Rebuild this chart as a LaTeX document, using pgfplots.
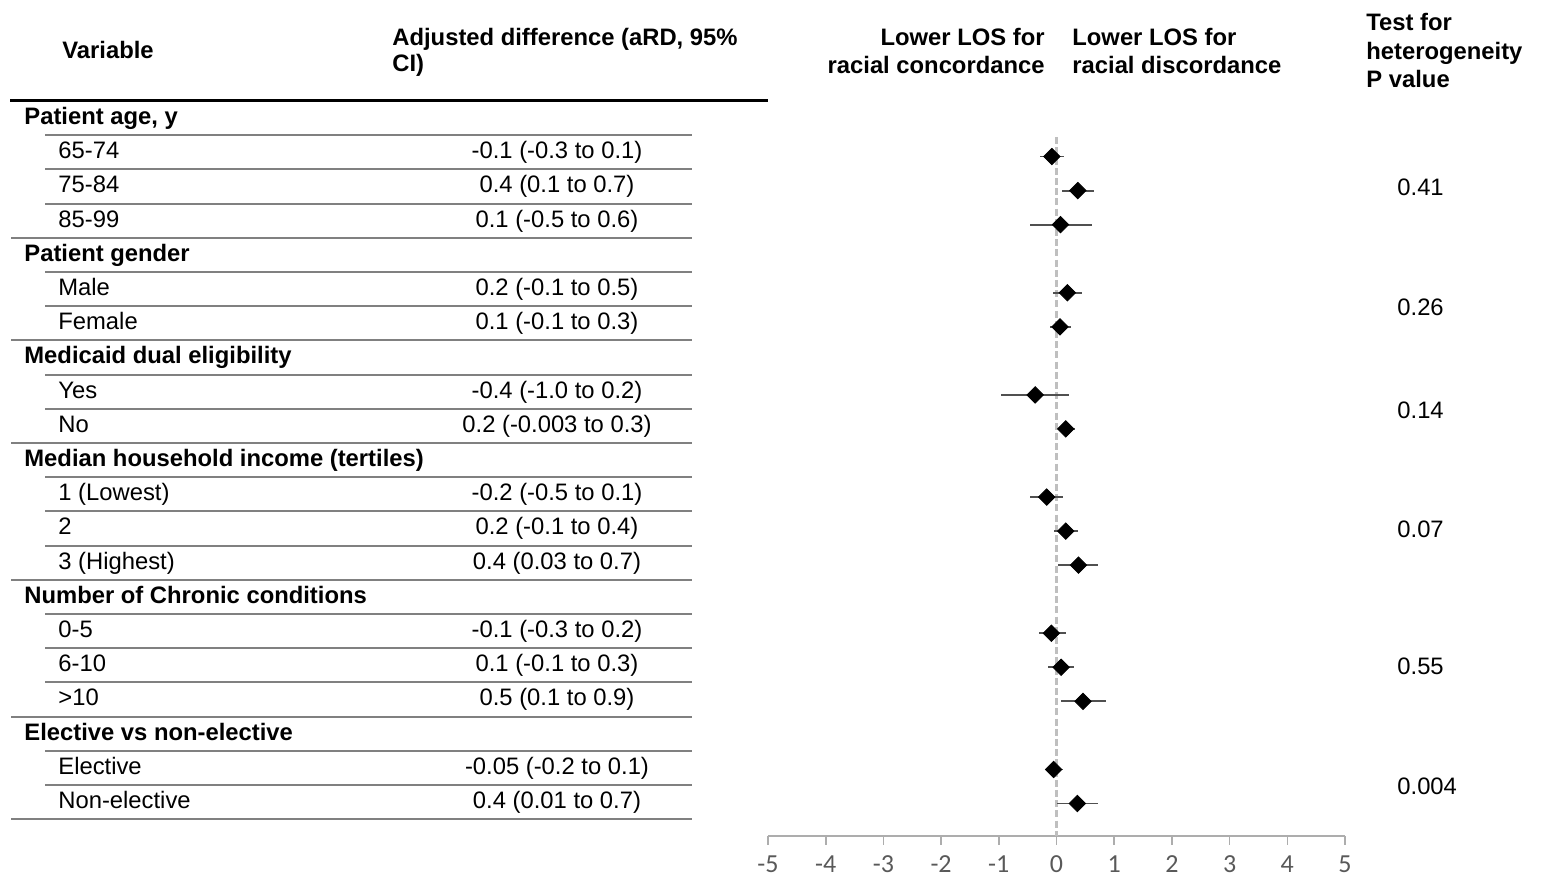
\documentclass[border=0pt]{standalone}
\usepackage{fontspec}
\setmainfont{Liberation Sans}
\newfontfamily\tickfont{Carlito}
\usepackage{pgfplots}
\pgfplotsset{compat=1.18}
\usepackage{pgfplotstable}
\definecolor{rulegray}{HTML}{808080}
\definecolor{axisgray}{HTML}{ADADAD}
\definecolor{tickgray}{HTML}{595959}
\definecolor{dashgray}{HTML}{BFBFBF}
\definecolor{whisk}{HTML}{505050}

% i = row index (0 = "Patient age, y"), x = aRD, ep/em = distance to upper/lower CI limit
\pgfplotstableread{
i  x      ep    em
1  -0.08  0.21  0.20
2   0.37  0.28  0.27
3   0.07  0.54  0.53
5   0.19  0.25  0.25
6   0.06  0.19  0.18
8  -0.37  0.59  0.59
9   0.16  0.16  0.14
11 -0.17  0.29  0.29
12  0.16  0.22  0.21
13  0.38  0.34  0.35
15 -0.09  0.26  0.22
16  0.08  0.22  0.22
17  0.46  0.40  0.38
19 -0.05  0.17  0.15
20  0.36  0.36  0.35
}\forest

\newcommand{\fs}{\fontsize{11.9}{14}\selectfont}
% text with vertical centre at pixel y
\newcommand{\T}[4]{\node[anchor=base #3, inner sep=0pt, font=\fs] at (#1,#2+8.5) {#4};}
\newcommand{\rowy}[1]{116+34.2*#1}

\begin{document}
\begin{tikzpicture}[x=0.5pt,y=-0.5pt]
\path[use as bounding box] (0,0) rectangle (1553,878);

% headers
\T{62}{50}{west}{\bfseries Variable}
\T{392}{37}{west}{\bfseries Adjusted difference (aRD, 95\%}
\T{392}{63}{west}{\bfseries CI)}
\T{1045}{37}{east}{\bfseries Lower LOS for}
\T{1045}{65}{east}{\bfseries racial concordance}
\T{1072}{37}{west}{\bfseries Lower LOS for}
\T{1072}{65}{west}{\bfseries racial discordance}
\T{1366}{22}{west}{\bfseries Test for}
\T{1366}{51}{west}{\bfseries heterogeneity}
\T{1366}{79}{west}{\bfseries P value}

\draw[black, line width=1.5pt] (10,100) -- (768,100);

% group headers
\foreach \i/\t in {0/{Patient age, y},4/{Patient gender},7/{Medicaid dual eligibility},10/{Median household income (tertiles)},14/{Number of Chronic conditions},18/{Elective vs non-elective}}{
  \T{24}{\rowy{\i}}{west}{\bfseries \t}
}
% items
\foreach \i/\a/\b in {1/{65-74}/{-0.1 (-0.3 to 0.1)},2/{75-84}/{0.4 (0.1 to 0.7)},3/{85-99}/{0.1 (-0.5 to 0.6)},
  5/{Male}/{0.2 (-0.1 to 0.5)},6/{Female}/{0.1 (-0.1 to 0.3)},
  8/{Yes}/{-0.4 (-1.0 to 0.2)},9/{No}/{0.2 (-0.003 to 0.3)},
  11/{1 (Lowest)}/{-0.2 (-0.5 to 0.1)},12/{2}/{0.2 (-0.1 to 0.4)},13/{3 (Highest)}/{0.4 (0.03 to 0.7)},
  15/{0-5}/{-0.1 (-0.3 to 0.2)},16/{6-10}/{0.1 (-0.1 to 0.3)},17/{>10}/{0.5 (0.1 to 0.9)},
  19/{Elective}/{-0.05 (-0.2 to 0.1)},20/{Non-elective}/{0.4 (0.01 to 0.7)}}{
  \T{58}{\rowy{\i}}{west}{\a}
  \T{557}{\rowy{\i}}{}{\b}
}
% table rules
\foreach \i in {0,1,2,4,5,7,8,10,11,12,14,15,16,18,19}{
  \draw[rulegray, line width=1pt] (45,135.1+34.2*\i) -- (692,135.1+34.2*\i);
}
\foreach \i in {3,6,9,13,17,20}{
  \draw[rulegray, line width=1pt] (11,135.1+34.2*\i) -- (692,135.1+34.2*\i);
}
% p values
\foreach \y/\p in {187/0.41,307/0.26,410/0.14,529/0.07,666/0.55,786/0.004}{
  \T{1397}{\y}{west}{\p}
}

\begin{axis}[
  at={(384pt,0pt)}, anchor=north west,
  scale only axis, width=288.5pt, height=418pt,
  xmin=-5, xmax=5, ymin=-20.955, ymax=3.598,
  axis y line=none, axis x line*=bottom,
  x axis line style={axisgray, line width=0.8pt, -},
  xtick={-5,-4,...,5},
  tick align=outside, major tick length=4.25pt,
  x tick style={axisgray, line width=0.8pt},
  /pgf/number format/assume math mode=true,
  x tick label style={font=\tickfont\fontsize{13}{15}\selectfont, text=tickgray, yshift=-2pt},
  clip=false,
]
\addplot[dashgray, line width=1.1pt, dash pattern=on 3.5pt off 1.6pt] coordinates {(0,-0.43) (0,-20.955)};
\addplot[only marks, mark=square*, mark size=2.9pt, mark options={rotate=45, fill=black, draw=black},
  error bars/.cd, x dir=both, x explicit, error mark=none,
  error bar style={whisk, line width=0.9pt}]
  table[x=x, y expr=-\thisrow{i}, x error plus=ep, x error minus=em] {\forest};
\end{axis}
\end{tikzpicture}
\end{document}
